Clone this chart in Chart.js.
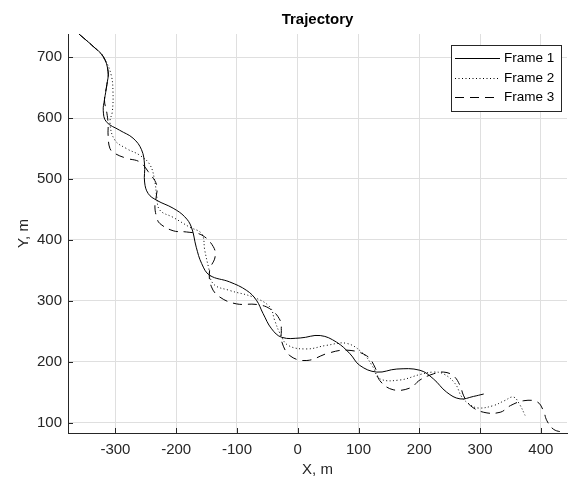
<!DOCTYPE html>
<html>
<head>
<meta charset="utf-8">
<script src="https://cdn.jsdelivr.net/npm/chart.js@4.4.1/dist/chart.umd.min.js"></script>
<style>
  html, body { margin: 0; padding: 0; background: #fff; }
  #wrap { width: 568px; height: 480px; position: relative; }
</style>
</head>
<body>
<div id="wrap"><canvas id="c" width="568" height="480"></canvas></div>
<script>
// ---- data ----
const SERIES_LABELS = ['Frame 1', 'Frame 2', 'Frame 3'];
const X_TICKS = [-300, -200, -100, 0, 100, 200, 300, 400];
const Y_TICKS = [100, 200, 300, 400, 500, 600, 700];

const FRAME1_X = [-360, -337, -320, -312, -314, -318, -320, -315, -293, -271, -257, -252, -252, -246, -232, -205, -186, -175, -167, -158, -145, -112, -84, -68, -57, -43, -26, 4, 37, 64, 86, 102, 130, 163, 201, 223, 245, 267, 289, 306];
const FRAME1_Y = [738, 718, 701, 676, 655, 630, 612, 594, 580, 567, 548, 523, 495, 476, 465, 452, 438, 421, 388, 361, 342, 331, 317, 301, 279, 254, 240, 239, 243, 232, 213, 194, 183, 188, 186, 172, 150, 139, 143, 147];

const FRAME2_X = [-360, -337, -318, -307, -304, -305, -309, -301, -282, -260, -243, -235, -232, -227, -205, -178, -158, -153, -147, -139, -112, -73, -46, -38, -29, -16, 15, 48, 81, 108, 124, 135, 168, 201, 223, 240, 259, 270, 283, 297, 322, 340, 355, 365, 374];
const FRAME2_Y = [738, 718, 697, 671, 643, 611, 592, 564, 550, 539, 523, 495, 471, 449, 437, 421, 410, 383, 356, 328, 317, 306, 290, 268, 246, 227, 221, 227, 230, 213, 191, 172, 170, 179, 183, 180, 164, 142, 130, 124, 128, 136, 142, 130, 112];

const FRAME3_X = [-360, -337, -320, -312, -314, -318, -314, -312, -312, -309, -301, -282, -260, -246, -232, -233, -235, -232, -227, -205, -183, -158, -139, -136, -145, -142, -128, -101, -68, -46, -29, -27, -27, -13, 15, 50, 81, 113, 127, 135, 157, 185, 201, 223, 240, 256, 267, 273, 284, 306, 333, 350, 372, 394, 404, 410, 421, 437];
const FRAME3_Y = [738, 718, 701, 676, 655, 630, 608, 590, 572, 550, 542, 534, 528, 512, 490, 470, 454, 437, 427, 415, 413, 408, 389, 372, 350, 323, 306, 295, 294, 287, 268, 251, 235, 210, 202, 214, 219, 210, 191, 169, 154, 157, 170, 180, 183, 177, 161, 144, 128, 117, 117, 128, 136, 134, 120, 103, 89, 84];

const X_MIN = -378, X_MAX = 443, Y_MIN = 83, Y_MAX = 738;

function pts(xs, ys) { return xs.map((x, i) => ({ x: x, y: ys[i] })); }

const FONT = '"Liberation Sans", Arial, Helvetica, sans-serif';
const AXIS_COLOR = '#262626';
const DASHES = [[], [1, 2.5], [9, 6]];

const inwardTicks = {
  id: 'inwardTicks',
  afterDatasetsDraw(chart) {
    const { ctx, chartArea: a, scales: { x, y } } = chart;
    ctx.save();
    ctx.strokeStyle = AXIS_COLOR;
    ctx.lineWidth = 1;
    ctx.beginPath();
    X_TICKS.forEach(v => {
      const px = Math.round(x.getPixelForValue(v)) + 0.5;
      ctx.moveTo(px, a.bottom); ctx.lineTo(px, a.bottom - 5);
    });
    Y_TICKS.forEach(v => {
      const py = Math.round(y.getPixelForValue(v)) + 0.5;
      ctx.moveTo(a.left, py); ctx.lineTo(a.left + 5, py);
    });
    ctx.stroke();
    ctx.restore();
  }
};

const boxLegend = {
  id: 'boxLegend',
  afterDraw(chart) {
    const { ctx, chartArea: a } = chart;
    const w = 110, h = 66;
    const bx = a.right - 6 - w, by = a.top + 11;
    ctx.save();
    ctx.fillStyle = '#fff';
    ctx.fillRect(bx, by, w, h);
    ctx.strokeStyle = AXIS_COLOR;
    ctx.lineWidth = 1;
    ctx.strokeRect(Math.round(bx) + 0.5, Math.round(by) + 0.5, w, h);
    ctx.font = '13.5px ' + FONT;
    ctx.textBaseline = 'middle';
    ctx.textAlign = 'left';
    chart.data.datasets.forEach((ds, i) => {
      const ry = Math.round(by + 13 + i * 19.5) + 0.5;
      ctx.strokeStyle = '#000';
      ctx.setLineDash(ds.borderDash || []);
      ctx.beginPath();
      ctx.moveTo(bx + 4, ry); ctx.lineTo(bx + 49, ry);
      ctx.stroke();
      ctx.setLineDash([]);
      ctx.fillStyle = '#000';
      ctx.fillText(ds.label, bx + 53, ry);
    });
    ctx.restore();
  }
};

new Chart(document.getElementById('c'), {
  type: 'scatter',
  data: {
    datasets: [
      { label: SERIES_LABELS[0], data: pts(FRAME1_X, FRAME1_Y), borderDash: DASHES[0] },
      { label: SERIES_LABELS[1], data: pts(FRAME2_X, FRAME2_Y), borderDash: DASHES[1] },
      { label: SERIES_LABELS[2], data: pts(FRAME3_X, FRAME3_Y), borderDash: DASHES[2] }
    ].map(d => Object.assign(d, {
      showLine: true, borderColor: '#000', backgroundColor: '#000',
      borderWidth: 1, pointRadius: 0, pointHoverRadius: 0, tension: 0.4, fill: false
    }))
  },
  options: {
    responsive: false,
    animation: false,
    events: [],
    layout: { padding: { left: 0, right: 1, top: 0, bottom: 0 } },
    plugins: {
      legend: { display: false },
      tooltip: { enabled: false },
      title: {
        display: true, text: 'Trajectory', color: '#000', fullSize: false,
        font: { family: FONT, size: 15, weight: 'bold' },
        padding: { top: 11, bottom: 5 }
      }
    },
    scales: {
      x: {
        type: 'linear', min: X_MIN, max: X_MAX,
        afterBuildTicks: s => { s.ticks = X_TICKS.map(v => ({ value: v })); },
        afterFit: s => { s.height = 47; },
        grid: { color: '#dfdfdf', lineWidth: 1, drawTicks: false },
        border: { display: true, color: AXIS_COLOR, width: 1 },
        ticks: { color: AXIS_COLOR, font: { family: FONT, size: 15 }, padding: 8, maxRotation: 0 },
        title: { display: true, text: 'X, m', color: AXIS_COLOR, font: { family: FONT, size: 15 }, padding: { top: 0, bottom: 1 } }
      },
      y: {
        type: 'linear', min: Y_MIN, max: Y_MAX,
        afterBuildTicks: s => { s.ticks = Y_TICKS.map(v => ({ value: v })); },
        afterFit: s => { s.width = 68; },
        grid: { color: '#dfdfdf', lineWidth: 1, drawTicks: false },
        border: { display: true, color: AXIS_COLOR, width: 1 },
        ticks: { color: AXIS_COLOR, font: { family: FONT, size: 15 }, padding: 6 },
        title: { display: true, text: 'Y, m', color: AXIS_COLOR, font: { family: FONT, size: 15 }, padding: { top: 15, bottom: 0 } }
      }
    }
  },
  plugins: [inwardTicks, boxLegend]
});
</script>
</body>
</html>
